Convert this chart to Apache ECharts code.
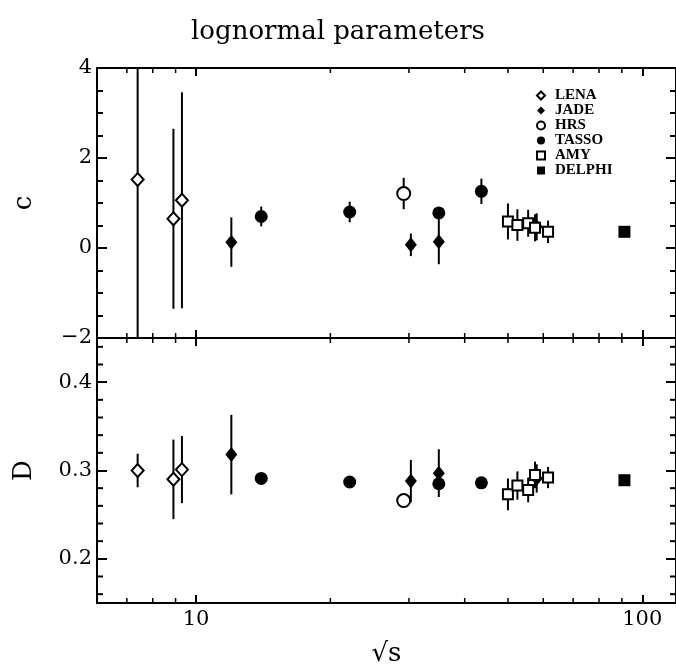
<!DOCTYPE html>
<html><head><meta charset="utf-8">
<script src="https://cdn.jsdelivr.net/npm/echarts@6/dist/echarts.min.js"></script>
<style>html,body{margin:0;padding:0;background:#fff}#c{width:676px;height:668px}</style>
</head><body><div id="c"></div>
<script>
// ---- data ----
const xMinorTicks = [7, 8, 9, 20, 30, 40, 50, 60, 70, 80, 90];
const dMinorTicks = [0.16, 0.18, 0.22, 0.24, 0.26, 0.28, 0.32, 0.34, 0.36, 0.38, 0.42, 0.44];

const lenaX = [7.4, 8.9, 9.3];
const lenaC = [1.52, 0.65, 1.06];
const lenaCErr = [4.5, 2.0, 2.4];
const lenaD = [0.300, 0.290, 0.301];
const lenaDErr = [0.019, 0.045, 0.038];

const jadeX = [12.0, 30.3, 35.0, 58.0];
const jadeC = [0.13, 0.07, 0.14, 0.47];
const jadeCErr = [0.55, 0.25, 0.5, 0.3];
const jadeD = [0.318, 0.288, 0.297, 0.291];
const jadeDErr = [0.045, 0.024, 0.027, 0.016];

const hrsX = [29.2];
const hrsC = [1.21];
const hrsCErr = [0.35];
const hrsD = [0.266];
const hrsDErr = [0];

const tassoX = [14.0, 22.1, 35.0, 43.6];
const tassoC = [0.70, 0.80, 0.78, 1.26];
const tassoCErr = [0.22, 0.23, 0, 0.28];
const tassoD = [0.291, 0.287, 0.285, 0.286];
const tassoDErr = [0, 0, 0, 0];

const amyX = [50.0, 52.5, 55.5, 57.5, 61.5];
const amyC = [0.59, 0.51, 0.55, 0.45, 0.36];
const amyCErr = [0.4, 0.35, 0.3, 0.3, 0.25];
const amyD = [0.273, 0.283, 0.278, 0.295, 0.292];
const amyDErr = [0.018, 0.016, 0.014, 0.015, 0.012];

const delphiX = [91.2];
const delphiC = [0.36];
const delphiCErr = [0];
const delphiD = [0.289];
const delphiDErr = [0];

const names = ['LENA', 'JADE', 'HRS', 'TASSO', 'AMY', 'DELPHI'];
// ---- end data ----

const serif = 'DejaVu Serif';
const sets = {
  LENA:   {x: lenaX, c: lenaC, ce: lenaCErr, d: lenaD, de: lenaDErr, symbol: 'diamond', size: [12, 13], fill: '#fff'},
  JADE:   {x: jadeX, c: jadeC, ce: jadeCErr, d: jadeD, de: jadeDErr, symbol: 'diamond', size: [12, 15], fill: '#000'},
  HRS:    {x: hrsX, c: hrsC, ce: hrsCErr, d: hrsD, de: hrsDErr, symbol: 'circle', size: 13, fill: '#fff'},
  TASSO:  {x: tassoX, c: tassoC, ce: tassoCErr, d: tassoD, de: tassoDErr, symbol: 'circle', size: 13, fill: '#000'},
  AMY:    {x: amyX, c: amyC, ce: amyCErr, d: amyD, de: amyDErr, symbol: 'rect', size: 10, fill: '#fff'},
  DELPHI: {x: delphiX, c: delphiC, ce: delphiCErr, d: delphiD, de: delphiDErr, symbol: 'rect', size: 12, fill: '#000'}
};

function errSeries(xs, ys, errs, gi) {
  const data = [];
  xs.forEach((x, i) => { if (errs[i] > 0) data.push([x, ys[i] - errs[i], ys[i] + errs[i]]); });
  return {
    type: 'custom', xAxisIndex: gi * 2, yAxisIndex: gi * 2, data, silent: true, z: 2,
    encode: {x: 0, y: [1, 2]},
    renderItem(params, api) {
      const cs = params.coordSys;
      const a = api.coord([api.value(0), api.value(1)]);
      const b = api.coord([api.value(0), api.value(2)]);
      const cl = v => Math.max(cs.y, Math.min(cs.y + cs.height, v));
      return {type: 'line', shape: {x1: a[0], y1: cl(a[1]), x2: b[0], y2: cl(b[1])},
        style: {stroke: '#000', lineWidth: 2}};
    }
  };
}
function scatterSeries(name, xs, ys, gi) {
  const s = sets[name];
  return {
    type: 'scatter', name, xAxisIndex: gi * 2, yAxisIndex: gi * 2, z: 5,
    symbol: s.symbol, symbolSize: s.size,
    itemStyle: {color: s.fill, borderColor: '#000', borderWidth: s.fill === '#fff' ? 2 : 0, opacity: 1},
    data: xs.map((x, i) => [x, ys[i]])
  };
}
function xMinorSeries(gi, yMid) {
  return {
    type: 'custom', xAxisIndex: gi * 2, yAxisIndex: gi * 2, silent: true, z: 3,
    encode: {x: 0, y: 1},
    data: xMinorTicks.map(v => [v, yMid]),
    renderItem(params, api) {
      const cs = params.coordSys;
      const p = api.coord([api.value(0), api.value(1)]);
      return {type: 'group', children: [
        {type: 'line', shape: {x1: p[0], y1: cs.y + cs.height, x2: p[0], y2: cs.y + cs.height - 5}, style: {stroke: '#000', lineWidth: 1.5}},
        {type: 'line', shape: {x1: p[0], y1: cs.y, x2: p[0], y2: cs.y + 5}, style: {stroke: '#000', lineWidth: 1.5}}
      ]};
    }
  };
}
function yMinorSeries(gi, ticks, xMid) {
  return {
    type: 'custom', xAxisIndex: gi * 2, yAxisIndex: gi * 2, silent: true, z: 3,
    encode: {x: 0, y: 1},
    data: ticks.map(v => [xMid, v]),
    renderItem(params, api) {
      const cs = params.coordSys;
      const p = api.coord([api.value(0), api.value(1)]);
      return {type: 'group', children: [
        {type: 'line', shape: {x1: cs.x, y1: p[1], x2: cs.x + 6, y2: p[1]}, style: {stroke: '#000', lineWidth: 2}},
        {type: 'line', shape: {x1: cs.x + cs.width, y1: p[1], x2: cs.x + cs.width - 6, y2: p[1]}, style: {stroke: '#000', lineWidth: 2}}
      ]};
    }
  };
}

const axLine = {show: true, onZero: false, lineStyle: {color: '#000', width: 2}};
const lblFont = {color: '#000', fontFamily: serif, fontSize: 21};
function xAx(gi, pos, labels) {
  return {
    type: 'log', logBase: 10, gridIndex: gi, position: pos, min: 6, max: 119,
    axisLine: axLine, splitLine: {show: false},
    axisTick: {show: true, inside: true, length: 8, lineStyle: {color: '#000', width: 2}},
    axisLabel: Object.assign({show: labels, margin: 6, showMinLabel: false, showMaxLabel: false}, lblFont),
    name: labels ? '\u221As' : '', nameLocation: 'middle', nameGap: 38,
    nameTextStyle: {color: '#000', fontFamily: serif, fontSize: 26}
  };
}
const yTop = (pos, labels) => ({
  type: 'value', gridIndex: 0, position: pos, min: -2, max: 4, interval: 2,
  axisLine: axLine, splitLine: {show: false},
  axisTick: {show: true, inside: true, length: 10, lineStyle: {color: '#000', width: 2}},
  minorTick: {show: true, splitNumber: 4, length: 6, lineStyle: {color: '#000', width: 2}},
  axisLabel: Object.assign({show: labels, margin: 5, formatter: v => String(v).replace('-', '\u2212')}, lblFont),
  name: labels ? 'c' : '', nameLocation: 'middle', nameGap: 60, nameRotate: 90,
  nameTextStyle: {color: '#000', fontFamily: serif, fontSize: 26}
});
const yBot = (pos, labels) => ({
  type: 'value', gridIndex: 1, position: pos, min: 0.15, max: 0.45, splitNumber: 3,
  axisLine: axLine, splitLine: {show: false},
  axisTick: {show: true, inside: true, length: 10, lineStyle: {color: '#000', width: 2}},
  axisLabel: Object.assign({show: labels, margin: 5, showMinLabel: false, showMaxLabel: false,
    formatter: v => v.toFixed(1)}, lblFont),
  name: labels ? 'D' : '', nameLocation: 'middle', nameGap: 60, nameRotate: 90,
  nameTextStyle: {color: '#000', fontFamily: serif, fontSize: 26}
});

const series = [];
names.forEach(n => {
  const s = sets[n];
  series.push(errSeries(s.x, s.c, s.ce, 0));
  series.push(errSeries(s.x, s.d, s.de, 1));
});
names.forEach(n => {
  const s = sets[n];
  series.push(scatterSeries(n, s.x, s.c, 0));
  series.push(scatterSeries(n, s.x, s.d, 1));
});
series.push(xMinorSeries(0, 1));
series.push(xMinorSeries(1, 0.3));
series.push(yMinorSeries(1, dMinorTicks, 20));

const chart = echarts.init(document.getElementById('c'), null, {renderer: 'canvas'});
chart.setOption({
  backgroundColor: '#fff',
  animation: false,
  title: {text: 'lognormal parameters', left: 'center', top: 14,
    textStyle: {color: '#000', fontFamily: serif, fontWeight: 'normal', fontSize: 26}},
  legend: {
    data: names, orient: 'vertical', left: 531, top: 83, itemWidth: 8, itemHeight: 8, itemGap: 0,
    textStyle: {color: '#000', fontFamily: 'Liberation Serif', fontWeight: 'bold', fontSize: 15, lineHeight: 12, padding: [0, 0, 0, 5]}
  },
  grid: [
    {left: 97, top: 68, width: 580, height: 270},
    {left: 97, top: 338, width: 580, height: 275}
  ],
  xAxis: [xAx(0, 'bottom', false), xAx(0, 'top', false), xAx(1, 'bottom', true), xAx(1, 'top', false)],
  yAxis: [yTop('left', true), yTop('right', false), yBot('left', true), yBot('right', false)],
  series
});
</script></body></html>
